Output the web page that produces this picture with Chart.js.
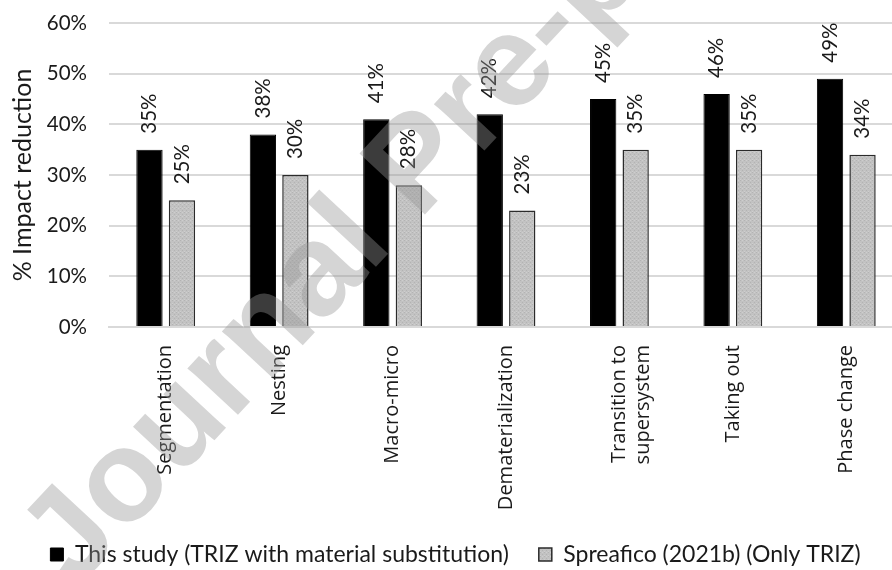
<!DOCTYPE html>
<html>
<head>
<meta charset="utf-8">
<script src="https://cdn.jsdelivr.net/npm/chart.js@4.4.0/dist/chart.umd.min.js"></script>
<style>
  html, body { margin: 0; padding: 0; background: #fff; overflow: hidden; }
  #wrap { width: 905px; height: 570px; }
</style>
</head>
<body>
<div id="wrap"><canvas id="chart" width="905" height="570"></canvas></div>
<script>
// TRIZ principles and impact reduction (%)
const categories = ['Segmentation', 'Nesting', 'Macro-micro', 'Dematerialization',
  ['Transition to', 'supersystem'], 'Taking out', 'Phase change'];
const thisStudy = [35, 38, 41, 42, 45, 46, 49];
const spreafico = [25, 30, 28, 23, 35, 35, 34];
const yTicks = [0, 10, 20, 30, 40, 50, 60];
const seriesNames = ['This study (TRIZ with material substitution)', 'Spreafico (2021b) (Only TRIZ)'];
const stampText = 'Journal Pre-proof';

const textColor = '#1a1a1a';
const gridColor = '#d9d9d9';

// dotted grey fill for the second series
function stipple() {
  const c = document.createElement('canvas');
  c.width = 4; c.height = 4;
  const g = c.getContext('2d');
  g.fillStyle = '#c2c2c2'; g.fillRect(0, 0, 4, 4);
  g.fillStyle = '#b3b3b3'; g.fillRect(0, 0, 1, 1); g.fillRect(2, 2, 1, 1);
  g.fillStyle = '#cecece'; g.fillRect(2, 0, 1, 1); g.fillRect(0, 3, 1, 1);
  return g.createPattern(c, 'repeat');
}

// vertical value labels above each bar
const valueLabels = {
  id: 'valueLabels',
  afterDatasetsDraw(chart) {
    const ctx = chart.ctx;
    ctx.save();
    ctx.font = '20.5px Lato';
    ctx.fillStyle = textColor;
    ctx.textAlign = 'left';
    ctx.textBaseline = 'middle';
    chart.data.datasets.forEach((ds, i) => {
      chart.getDatasetMeta(i).data.forEach((bar, j) => {
        ctx.save();
        ctx.translate(bar.x, bar.y - 16);
        ctx.rotate(-Math.PI / 2);
        ctx.fillText(ds.data[j] + '%', 0, 0);
        ctx.restore();
      });
    });
    ctx.restore();
  }
};

// translucent diagonal stamp laid over the whole chart
const stamp = {
  id: 'stamp',
  afterDraw(chart) {
    const ctx = chart.ctx;
    ctx.save();
    ctx.translate(48, 566);
    ctx.rotate(-47 * Math.PI / 180);
    ctx.font = 'bold 130px "Liberation Sans"';
    ctx.fillStyle = 'rgba(150,150,150,0.4)';
    ctx.fillText(stampText, 0, 0);
    ctx.restore();
  }
};

new Chart(document.getElementById('chart'), {
  type: 'bar',
  data: {
    labels: categories,
    datasets: [
      {
        label: seriesNames[0],
        data: thisStudy,
        backgroundColor: '#000',
        borderColor: '#000',
        borderWidth: 1
      },
      {
        label: seriesNames[1],
        data: spreafico,
        backgroundColor: stipple(),
        borderColor: '#2b2b2b',
        borderWidth: 1.5
      }
    ]
  },
  options: {
    responsive: false,
    animation: false,
    categoryPercentage: 0.573,
    barPercentage: 0.81,
    layout: { padding: { top: 0, left: 8, right: 2, bottom: -6 } },
    plugins: {
      tooltip: { enabled: false },
      legend: {
        position: 'bottom',
        labels: {
          color: textColor,
          font: { family: 'Lato', size: 23 },
          boxWidth: 13,
          boxHeight: 13,
          padding: 30
        }
      }
    },
    scales: {
      x: {
        afterFit: (scale) => { scale.height = 186; },
        grid: { display: false, drawTicks: false },
        border: { display: true, color: gridColor, width: 2 },
        ticks: {
          color: textColor,
          font: { family: 'Open Sans', size: 20 },
          minRotation: 90,
          maxRotation: 90,
          autoSkip: false,
          padding: 18
        }
      },
      y: {
        min: 0,
        max: 60,
        afterBuildTicks: (scale) => { scale.ticks = yTicks.map(v => ({ value: v })); },
        afterFit: (scale) => {
          scale.width = 101;
          scale.paddingTop = 23;
          scale.paddingBottom = 12;
        },
        grid: { color: gridColor, lineWidth: 2, drawTicks: false },
        border: { display: false },
        ticks: {
          color: textColor,
          font: { family: 'Lato', size: 20.5 },
          padding: 22,
          callback: (v) => v + '%'
        },
        title: {
          display: true,
          text: '% Impact reduction',
          color: textColor,
          font: { family: 'Lato', size: 25 },
          padding: { top: 0, bottom: 0 }
        }
      }
    }
  },
  plugins: [valueLabels, stamp]
});
</script>
</body>
</html>
